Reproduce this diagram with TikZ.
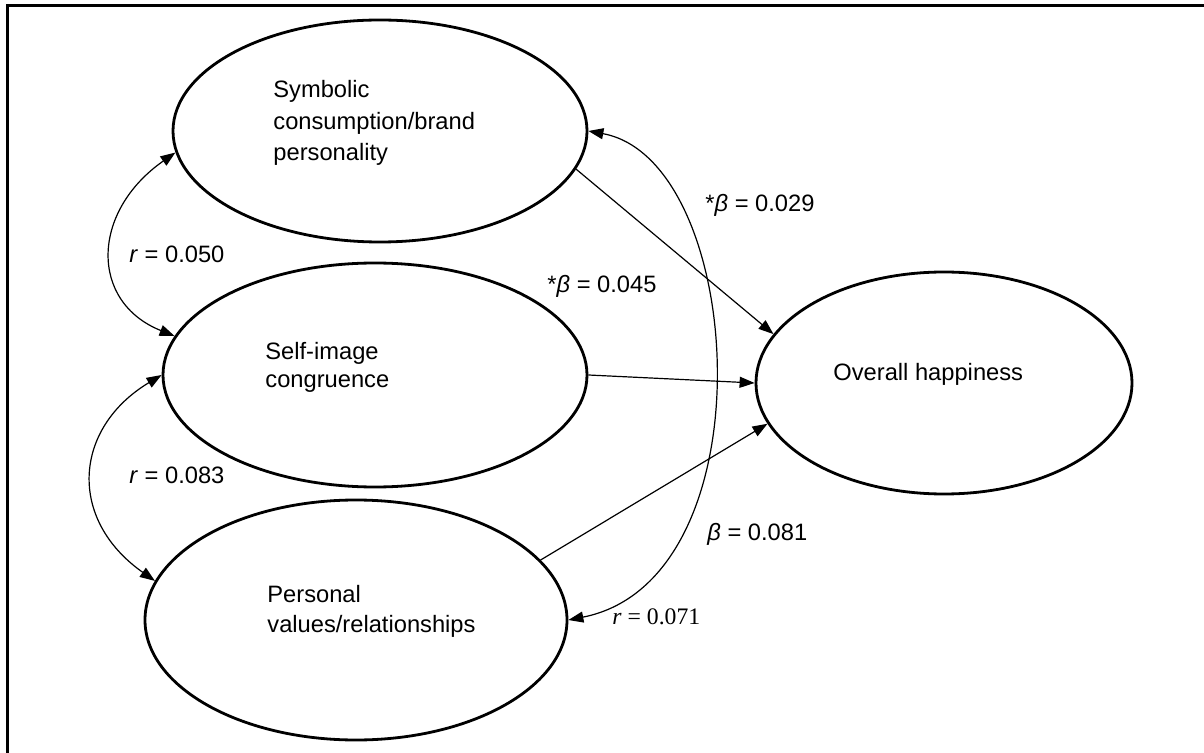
\documentclass[tikz,border=0pt]{standalone}
\usepackage{fontspec}
\setmainfont{Liberation Sans}
\newfontfamily\serifnum{Liberation Serif}
\usetikzlibrary{arrows.meta, shapes.geometric}

\begin{document}
\begin{tikzpicture}[
  x=0.5pt, y=-0.5pt,
  font=\fontsize{11.85}{15.75}\selectfont,
  latent/.style={
    ellipse,
    draw=black,
    line width=1.4pt,
    inner sep=0pt
  },
  txt/.style={
    inner sep=0pt,
    anchor=north west,
    align=left
  },
  coef/.style={
    inner sep=0pt,
    anchor=base west
  },
  link/.style={
    -{Triangle[length=7.5pt, width=5.5pt]},
    line width=0.6pt,
    draw=black
  },
  corr/.style={
    {Triangle[length=7.5pt, width=5.5pt]}-{Triangle[length=7.5pt, width=5.5pt]},
    line width=0.6pt,
    draw=black
  }
]
\useasboundingbox (0,0) rectangle (1204,753);

% Frame
\draw[line width=1.5pt] (1210,6) -- (7,6) -- (7,760);

% Constructs
\node[latent, minimum width=207pt, minimum height=111pt] (sym) at (380,131) {};
\node[latent, minimum width=212pt, minimum height=112pt] (sei) at (375,375) {};
\node[latent, minimum width=211pt, minimum height=120pt] (per) at (356,620) {};
\node[latent, minimum width=188pt, minimum height=111pt] (ovr) at (944,383) {};

% Texts
\node[txt] (symtxt) at (273,80) {Symbolic\\consumption/brand\\personality};
\node[txt, font=\fontsize{11.85}{14}\selectfont] (seitxt) at (265,342) {Self-image\\congruence};
\node[txt, font=\fontsize{11.85}{15}\selectfont] (pertxt) at (267,585) {Personal\\values/relationships};
\node[txt] (ovrtxt) at (833,363) {Overall happiness};

% Paths
\draw[link] (sym.349) -- (ovr.164);
\draw[link] (sei.east) -- (ovr.west);
\draw[link] (per.18) -- (ovr.193);

% Correlations
\draw[corr] (sym.186) .. controls +(-85,59.5) and +(-85,-34) .. (sei.169);
\draw[corr] (sei.west) .. controls +(-88,53) and +(-88,-62) .. (per.169);
\draw[corr] (sym.east) .. controls +(158,29) and +(203,-40) .. (per.east);

% Coefficients
\node[coef] (r1) at (129,263) {\textit{r} = 0.050};
\node[coef] (r2) at (129,483) {\textit{r} = 0.083};
\node[coef] (b1) at (547,293) {*\textit{β} = 0.045};
\node[coef] (b2) at (705,212) {*\textit{β} = 0.029};
\node[coef] (b3) at (707,540) {\textit{β} = 0.081};
\node[coef, font=\serifnum\fontsize{11.85}{14}\selectfont] (r3) at (612,624) {\textit{r} = 0.071};
\end{tikzpicture}
\end{document}
